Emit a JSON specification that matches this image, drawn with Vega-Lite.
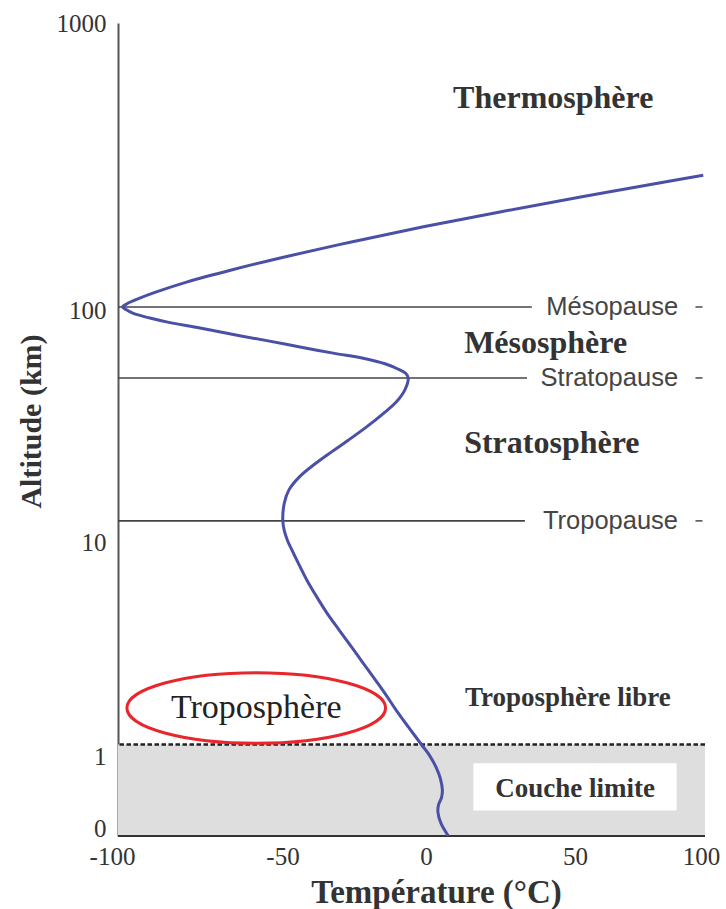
{
  "$schema": "https://vega.github.io/schema/vega-lite/v6.json",
  "width": 587,
  "height": 813,
  "autosize": {"type": "none"},
  "padding": {"left": 118, "top": 23, "right": 21, "bottom": 73},
  "background": "white",
  "config": {"view": {"stroke": null}, "font": "Liberation Serif"},
  "datasets": {
    "curve": [
      {"i": 1, "temp": 7.5, "alt": 0},
      {"i": 2, "temp": 5.0, "alt": 0.14},
      {"i": 3, "temp": 4.0, "alt": 0.26},
      {"i": 4, "temp": 4.2, "alt": 0.34},
      {"i": 5, "temp": 5.2, "alt": 0.42},
      {"i": 6, "temp": 5.5, "alt": 0.5},
      {"i": 7, "temp": 4.8, "alt": 0.63},
      {"i": 8, "temp": 3.4, "alt": 0.75},
      {"i": 9, "temp": 1.0, "alt": 0.89},
      {"i": 10, "temp": -1.6, "alt": 1.0},
      {"i": 11, "temp": -6.1, "alt": 1.22},
      {"i": 12, "temp": -10.35, "alt": 1.48},
      {"i": 13, "temp": -13.9, "alt": 1.76},
      {"i": 14, "temp": -17.6, "alt": 2.09},
      {"i": 15, "temp": -21.85, "alt": 2.53},
      {"i": 16, "temp": -25.9, "alt": 3.04},
      {"i": 17, "temp": -30.2, "alt": 3.69},
      {"i": 18, "temp": -34.5, "alt": 4.48},
      {"i": 19, "temp": -38.4, "alt": 5.51},
      {"i": 20, "temp": -41.5, "alt": 6.54},
      {"i": 21, "temp": -44.15, "alt": 7.75},
      {"i": 22, "temp": -46.7, "alt": 9.2},
      {"i": 23, "temp": -48.3, "alt": 10.27},
      {"i": 24, "temp": -49.4, "alt": 11.32},
      {"i": 25, "temp": -49.9, "alt": 12.48},
      {"i": 26, "temp": -49.4, "alt": 14.7},
      {"i": 27, "temp": -47.8, "alt": 16.74},
      {"i": 28, "temp": -44.1, "alt": 19.05},
      {"i": 29, "temp": -38.5, "alt": 21.72},
      {"i": 30, "temp": -32.9, "alt": 24.33},
      {"i": 31, "temp": -27.1, "alt": 27.27},
      {"i": 32, "temp": -20.7, "alt": 31.06},
      {"i": 33, "temp": -14.8, "alt": 35.4},
      {"i": 34, "temp": -10.3, "alt": 39.65},
      {"i": 35, "temp": -7.4, "alt": 44.45},
      {"i": 36, "temp": -6.2, "alt": 49.9},
      {"i": 37, "temp": -7.1, "alt": 52.5},
      {"i": 38, "temp": -9.8, "alt": 54.8},
      {"i": 39, "temp": -14.3, "alt": 57.6},
      {"i": 40, "temp": -20.7, "alt": 60.2},
      {"i": 41, "temp": -32.3, "alt": 63.9},
      {"i": 42, "temp": -43.9, "alt": 67.8},
      {"i": 43, "temp": -54.6, "alt": 72.1},
      {"i": 44, "temp": -64.4, "alt": 76.6},
      {"i": 45, "temp": -74.2, "alt": 81.5},
      {"i": 46, "temp": -84.0, "alt": 86.6},
      {"i": 47, "temp": -88.9, "alt": 89.8},
      {"i": 48, "temp": -93.75, "alt": 94.0},
      {"i": 49, "temp": -95.9, "alt": 97.6},
      {"i": 50, "temp": -96.9, "alt": 100},
      {"i": 51, "temp": -95.7, "alt": 102.7},
      {"i": 52, "temp": -92.6, "alt": 107.0},
      {"i": 53, "temp": -87.2, "alt": 113.2},
      {"i": 54, "temp": -77.9, "alt": 122.8},
      {"i": 55, "temp": -65.0, "alt": 135.3},
      {"i": 56, "temp": -49.3, "alt": 150.4},
      {"i": 57, "temp": -26.0, "alt": 169.8},
      {"i": 58, "temp": -0.9, "alt": 191.8},
      {"i": 59, "temp": 24.8, "alt": 216.6},
      {"i": 60, "temp": 52.2, "alt": 244.5},
      {"i": 61, "temp": 85.6, "alt": 276.2},
      {"i": 62, "temp": 100.9, "alt": 291.6}
    ],
    "levels": [
      {"name": "Mésopause", "alt": 100, "from": -98.2, "to": 35.5, "label_at": 90.9, "dash_from": 97.8, "dash_to": 100.6},
      {"name": "Stratopause", "alt": 50, "from": -98.2, "to": 33.9, "label_at": 90.9, "dash_from": 97.8, "dash_to": 100.6},
      {"name": "Tropopause", "alt": 12.4, "from": -98.2, "to": 33.2, "label_at": 90.9, "dash_from": 97.8, "dash_to": 100.6}
    ],
    "layers": [
      {"name": "Thermosphère", "temp": 9.1, "alt": 500},
      {"name": "Mésosphère", "temp": 12.8, "alt": 64},
      {"name": "Stratosphère", "temp": 12.8, "alt": 24}
    ],
    "tropo": [
      {"name": "Troposphère libre", "temp": 13.1, "alt": 1.55}
    ],
    "boundary": [
      {"name": "Couche limite", "bottom": 0, "top": 1, "temp": 50, "alt": 0.43, "box_from": 15.9, "box_to": 90.3, "box_bottom": 0.28, "box_top": 0.795}
    ],
    "highlight": [
      {"name": "Troposphère", "temp": -57.7, "alt": 1.52, "text_alt": 1.353}
    ]
  },
  "layer": [
    {
      "data": {"name": "boundary"},
      "mark": {"type": "rect", "fill": "#dedede"},
      "encoding": {
        "y": {"field": "bottom", "type": "quantitative", "title": "Altitude (km)",
          "scale": {"type": "linear", "nice": false, "zero": false,
            "domain": [0,1,1.2,1.4,1.6,1.8,2,2.3,2.6,3,3.5,4,4.5,5,6,7,8,9,10,12,14,16,18,20,23,26,30,35,40,45,50,60,70,80,90,100,120,140,160,180,200,230,260,300,350,400,450,500,600,700,800,900,1000],
            "range": [813,721.5,705.52,692.01,680.31,669.99,660.75,648.5,637.76,625.22,611.71,600,589.68,580.45,564.47,550.96,539.26,528.93,519.7,501.04,485.26,471.59,459.53,448.75,434.44,421.89,407.24,391.46,377.79,365.74,354.95,336.29,320.51,306.84,294.79,284,261.51,242.5,226.03,211.5,198.51,181.27,166.15,148.5,129.48,113.01,98.49,85.49,63.01,43.99,27.52,13,0]},
          "axis": {"values": [0, 1, 10, 100, 1000], "labelExpr": "'' + datum.value", "domain": true, "domainColor": "#555555", "domainWidth": 2,
            "ticks": false, "grid": false, "labelFont": "Liberation Serif", "labelFontSize": 25, "labelColor": "#333333",
            "labelPadding": 12, "labelOverlap": false, "labelFlush": false,
            "labelOffset": {"condition": [{"test": "datum.value == 0", "value": -8}, {"test": "datum.value == 1", "value": 12}, {"test": "datum.value == 100", "value": 3}], "value": 0},
            "title": "Altitude (km)", "titleFont": "Liberation Serif", "titleFontSize": 30, "titleFontWeight": "bold",
            "titleColor": "#333333", "titlePadding": 10, "titleY": 398}},
        "y2": {"field": "top"}
      }
    },
    {
      "data": {"name": "boundary"},
      "mark": {"type": "rect", "fill": "white"},
      "encoding": {
        "x": {"field": "box_from", "type": "quantitative", "title": "Température (°C)",
          "scale": {"type": "linear", "nice": false, "zero": false, "domain": [-100, -50, 0, 50, 100], "range": [-6, 164.5, 308, 457, 583]},
          "axis": {"values": [-100, -50, 0, 50, 100], "labelExpr": "'' + datum.value", "domain": false, "ticks": false, "grid": false,
            "labelFont": "Liberation Serif", "labelFontSize": 25, "labelColor": "#333333", "labelPadding": 8,
            "labelOverlap": false, "labelFlush": false, "labelBound": false,
            "title": "Température (°C)", "titleFont": "Liberation Serif", "titleFontSize": 33, "titleFontWeight": "bold",
            "titleColor": "#333333", "titlePadding": 7, "titleX": 318}},
        "x2": {"field": "box_to"},
        "y": {"field": "box_bottom", "type": "quantitative", "title": "Altitude (km)"},
        "y2": {"field": "box_top"}
      }
    },
    {
      "data": {"name": "boundary"},
      "mark": {"type": "rule", "color": "#333333", "strokeWidth": 2},
      "encoding": {"y": {"field": "bottom", "type": "quantitative", "title": "Altitude (km)"}}
    },
    {
      "data": {"name": "boundary"},
      "mark": {"type": "rule", "color": "#222222", "strokeWidth": 2.5, "strokeDash": [4.5, 2.5]},
      "encoding": {"y": {"field": "top", "type": "quantitative", "title": "Altitude (km)"}}
    },
    {
      "data": {"name": "levels"},
      "mark": {"type": "rule", "color": "#444444", "strokeWidth": 1.6},
      "encoding": {
        "x": {"field": "from", "type": "quantitative", "title": "Température (°C)"},
        "x2": {"field": "to"},
        "y": {"field": "alt", "type": "quantitative", "title": "Altitude (km)"}
      }
    },
    {
      "data": {"name": "levels"},
      "mark": {"type": "rule", "color": "#555555", "strokeWidth": 1.6},
      "encoding": {
        "x": {"field": "dash_from", "type": "quantitative", "title": "Température (°C)"},
        "x2": {"field": "dash_to"},
        "y": {"field": "alt", "type": "quantitative", "title": "Altitude (km)"}
      }
    },
    {
      "data": {"name": "levels"},
      "mark": {"type": "text", "font": "Liberation Sans", "fontSize": 25.5, "color": "#454545", "align": "right", "baseline": "middle"},
      "encoding": {
        "x": {"field": "label_at", "type": "quantitative", "title": "Température (°C)"},
        "y": {"field": "alt", "type": "quantitative", "title": "Altitude (km)"},
        "text": {"field": "name"}
      }
    },
    {
      "data": {"name": "curve"},
      "mark": {"type": "line", "color": "#4a50a6", "strokeWidth": 3, "interpolate": "catmull-rom"},
      "encoding": {
        "x": {"field": "temp", "type": "quantitative", "title": "Température (°C)"},
        "y": {"field": "alt", "type": "quantitative", "title": "Altitude (km)"},
        "order": {"field": "i", "type": "quantitative"}
      }
    },
    {
      "data": {"name": "layers"},
      "mark": {"type": "text", "font": "Liberation Serif", "fontWeight": "bold", "fontSize": 32, "color": "#333333", "align": "left", "baseline": "alphabetic"},
      "encoding": {
        "x": {"field": "temp", "type": "quantitative", "title": "Température (°C)"},
        "y": {"field": "alt", "type": "quantitative", "title": "Altitude (km)"},
        "text": {"field": "name"}
      }
    },
    {
      "data": {"name": "tropo"},
      "mark": {"type": "text", "font": "Liberation Serif", "fontWeight": "bold", "fontSize": 27, "color": "#333333", "align": "left", "baseline": "alphabetic"},
      "encoding": {
        "x": {"field": "temp", "type": "quantitative", "title": "Température (°C)"},
        "y": {"field": "alt", "type": "quantitative", "title": "Altitude (km)"},
        "text": {"field": "name"}
      }
    },
    {
      "data": {"name": "boundary"},
      "mark": {"type": "text", "font": "Liberation Serif", "fontWeight": "bold", "fontSize": 27, "color": "#333333", "align": "center", "baseline": "alphabetic"},
      "encoding": {
        "x": {"field": "temp", "type": "quantitative", "title": "Température (°C)"},
        "y": {"field": "alt", "type": "quantitative", "title": "Altitude (km)"},
        "text": {"field": "name"}
      }
    },
    {
      "data": {"name": "highlight"},
      "mark": {"type": "text", "font": "Liberation Serif", "fontSize": 34, "color": "#222222", "align": "center", "baseline": "alphabetic"},
      "encoding": {
        "x": {"field": "temp", "type": "quantitative", "title": "Température (°C)"},
        "y": {"field": "text_alt", "type": "quantitative", "title": "Altitude (km)"},
        "text": {"field": "name"}
      }
    },
    {
      "data": {"name": "highlight"},
      "mark": {"type": "point", "filled": false, "stroke": "#e8262b", "strokeWidth": 3, "opacity": 1,
        "shape": "M-1,0A1,0.273,0,1,0,1,0A1,0.273,0,1,0,-1,0Z", "size": 66900},
      "encoding": {
        "x": {"field": "temp", "type": "quantitative", "title": "Température (°C)"},
        "y": {"field": "alt", "type": "quantitative", "title": "Altitude (km)"}
      }
    }
  ]
}
